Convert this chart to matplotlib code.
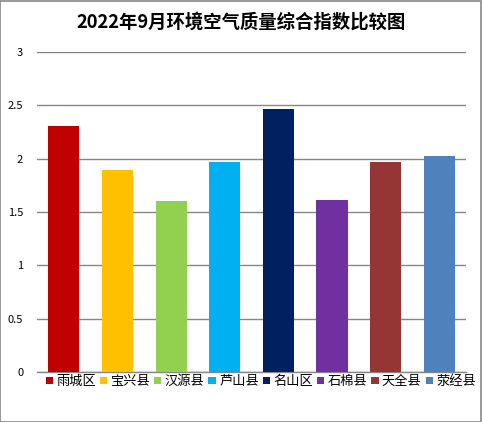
import matplotlib
matplotlib.use("Agg")
import matplotlib.pyplot as plt
from matplotlib.patches import Rectangle

plt.rcParams['font.family'] = ['Noto Sans CJK SC', 'DejaVu Sans']

# data
counties = ["雨城区", "宝兴县", "汉源县", "芦山县", "名山区", "石棉县", "天全县", "荥经县"]
index_values = [2.31, 1.89, 1.60, 1.97, 2.47, 1.61, 1.97, 2.03]
colors = ["#C00000", "#FFC000", "#92D050", "#00B0F0", "#002060", "#7030A0", "#963634", "#4F81BD"]
yticks = [0, 0.5, 1, 1.5, 2, 2.5, 3]

fig = plt.figure(figsize=(4.82, 4.22), dpi=100)
ax = fig.add_axes([0.077, 0.1185, 0.890, 0.758])

bars = []
for i in range(len(counties)):
    b = ax.bar(i, index_values[i], width=0.58, color=colors[i], label=counties[i], zorder=3)
    bars.append(b)

ax.set_xlim(-0.5, len(counties) - 0.5)
ax.set_ylim(0, 3)
ax.set_yticks(yticks)
ax.set_yticklabels([str(t) for t in yticks], fontsize=8)
ax.set_xticks([])
ax.tick_params(axis='y', length=0, pad=10)
ax.grid(axis='y', color='#868686', linewidth=1, zorder=0)
for s in ['top', 'right', 'left']:
    ax.spines[s].set_visible(False)
ax.spines['bottom'].set_color('#868686')
ax.spines['bottom'].set_linewidth(1)

fig.text(0.5, 0.948, "2022年9月环境空气质量综合指数比较图", ha='center', va='center',
         fontsize=13.2, fontweight='bold')

ax.legend(loc='upper left', bbox_to_anchor=(0.02, -0.01), ncol=8, frameon=False,
          fontsize=9.5, handlelength=0.55, handleheight=0.55, handletextpad=0.25,
          columnspacing=0.3, borderaxespad=0, borderpad=0)

fig.patches.append(Rectangle((0.001, 0.001), 0.997, 0.997, transform=fig.transFigure,
                             fill=False, edgecolor='#868686', linewidth=1.2))

fig.savefig("out.png", dpi=100)
